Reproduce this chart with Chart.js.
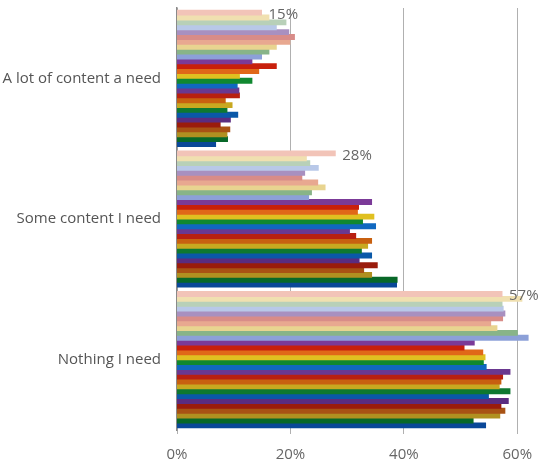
<!DOCTYPE html>
<html>
<head>
<meta charset="utf-8">
<script src="https://cdn.jsdelivr.net/npm/chart.js@4"></script>
<style>
  html, body { margin: 0; padding: 0; background: #fff; }
  .wrap { width: 540px; height: 462px; position: relative; }
</style>
</head>
<body>
<div class="wrap"><canvas id="chart"></canvas></div>
<script>
// ----------------------------------------------------
// DATA
// ----------------------------------------------------
const categories = ['A lot of content a need', 'Some content I need', 'Nothing I need'];
const xTicks = [0, 20, 40, 60];

// one value per series (top bar first) for each category
const lotValues = [14.9, 16.2, 19.2, 17.5, 19.7, 20.7, 19.9, 17.5, 16.2, 14.9,
                   13.2, 17.5, 14.4, 11.0, 13.2, 10.6, 10.9, 11.0, 8.5, 9.7,
                   8.8, 10.7, 9.4, 7.6, 9.3, 8.8, 8.9, 6.8];
const someValues = [27.9, 22.8, 23.4, 24.9, 22.5, 22.0, 24.8, 26.1, 23.7, 23.2,
                    34.3, 32.0, 31.8, 34.7, 32.7, 35.0, 30.4, 31.5, 34.3, 33.6,
                    32.5, 34.3, 32.1, 35.3, 32.9, 34.3, 38.8, 38.7];
const nothingValues = [57.3, 60.8, 57.3, 57.5, 57.8, 57.4, 55.3, 56.4, 60.0, 61.9,
                       52.4, 50.6, 53.9, 54.3, 54.0, 54.5, 58.7, 57.4, 57.1, 56.8,
                       58.7, 54.9, 58.4, 57.1, 57.8, 56.9, 52.2, 54.4];

const seriesColors = ['#f2c4b8', '#f0e0b0', '#b8d0b8', '#b8c8e8', '#a890c0', '#d88c88', '#e8a890', '#e8d490', '#88b488', '#8ca0d8',
                      '#7b3a98', '#c8200c', '#e06818', '#e0c020', '#108830', '#1068c0',
                      '#6a3890', '#b82010', '#c86010', '#c8a820', '#0e7830', '#0a58a8',
                      '#5a2c80', '#9a1c0c', '#a85214', '#b09020', '#086828', '#0a4898'];

const FONT = "'Open Sans', sans-serif";

const datasets = seriesColors.map((c, i) => ({
    label: 'Series ' + (i + 1),
    data: [lotValues[i], someValues[i], nothingValues[i]],
    backgroundColor: c,
    borderWidth: 0,
    inflateAmount: 0.5,
    categoryPercentage: 0.968,
    barPercentage: 1.0
}));

// value callouts next to the first (top) bar of each group
const calloutPlugin = {
    id: 'callouts',
    afterDatasetsDraw(chart) {
        const ctx = chart.ctx;
        const meta = chart.getDatasetMeta(0);
        ctx.save();
        ctx.font = '15px ' + FONT;
        ctx.fillStyle = '#666';
        ctx.textAlign = 'left';
        ctx.textBaseline = 'middle';
        meta.data.forEach((bar, i) => {
            const v = chart.data.datasets[0].data[i];
            ctx.fillText(Math.round(v) + '%', bar.x + 7, bar.y + 2);
        });
        ctx.restore();
    }
};

new Chart(document.getElementById('chart'), {
    type: 'bar',
    data: { labels: categories, datasets: datasets },
    plugins: [calloutPlugin],
    options: {
        indexAxis: 'y',
        responsive: true,
        maintainAspectRatio: false,
        animation: false,
        layout: { padding: { top: 8, right: 0, left: 0, bottom: 0 } },
        plugins: { legend: { display: false }, tooltip: { enabled: false } },
        scales: {
            x: {
                min: 0, max: 64,
                afterBuildTicks: (s) => { s.ticks = xTicks.map(v => ({ value: v })); },
                afterFit: (s) => { s.height = 32; s.paddingLeft = 0; s.paddingRight = 0; },
                grid: { color: '#b0b0b0', lineWidth: 1, drawTicks: true, tickLength: 4 },
                border: { display: false },
                ticks: {
                    color: '#666', padding: 12,
                    font: { family: FONT, size: 15 },
                    callback: (v) => v + '%'
                }
            },
            y: {
                afterFit: (s) => { s.width = 177; s.paddingTop = 0; s.paddingBottom = 0; },
                grid: { display: false, drawTicks: false },
                border: { display: true, color: '#8a8a8a', width: 1.5 },
                ticks: {
                    color: '#555', padding: 16,
                    font: { family: FONT, size: 15 }
                }
            }
        }
    }
});
</script>
</body>
</html>
